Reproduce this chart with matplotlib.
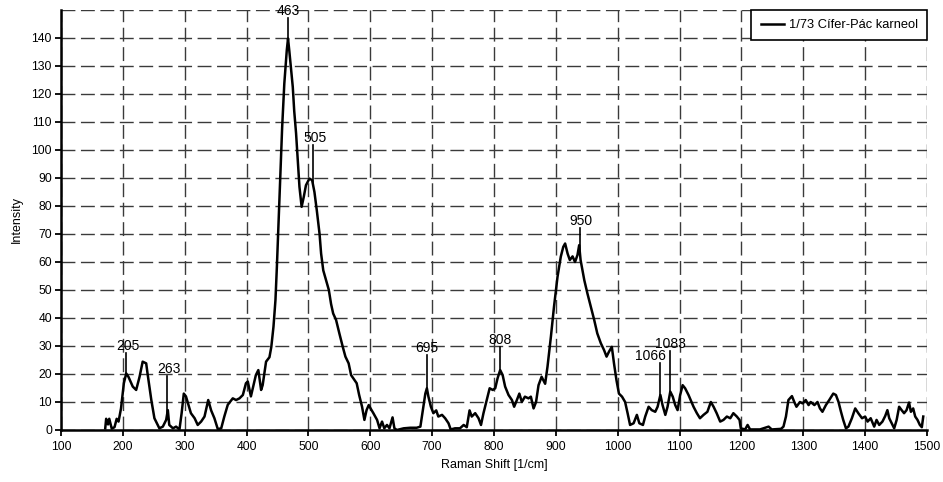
import numpy as np
import matplotlib
matplotlib.use("Agg")
import matplotlib.pyplot as plt

plt.rcParams['font.family'] = ['Liberation Sans', 'DejaVu Sans']

# spectrum
raman_shift = [
    171.5, 173, 176, 178, 182, 186.5, 190, 193, 197, 201.6, 205.4, 209, 216, 221.5, 227, 232,
    237.7, 240, 246, 251, 259, 264.6, 270, 272.7, 275, 281, 286, 291.5, 295, 298.5, 302, 306,
    310, 316, 321, 326.5, 332, 338, 342.7, 348, 353.5, 359, 364, 369.6, 377.7, 383, 388.5, 394,
    399, 402, 407, 415, 419, 423.5, 426, 431.5, 437, 440, 443.5, 446.7, 449, 452, 455, 457.5,
    461, 465, 467, 469, 472, 474.7, 477, 480, 482.8, 485.5, 489, 492.5, 496, 501.6, 506, 509.7,
    513.5, 518, 520.5, 524, 528.5, 533, 536.6, 540, 544.7, 550, 555.5, 559.8, 565, 569, 574, 578,
    582, 586.7, 590.5, 594, 597.5, 601, 605, 611, 615, 619, 622.6, 627, 631, 636, 639, 643,
    654, 664.6, 675, 681, 685, 689, 691.5, 694, 698, 702, 706.6, 710, 716, 721, 726.5, 730,
    737, 745, 751, 756, 760.5, 764, 769.6, 775, 779, 783, 787, 793, 798, 802, 805.7, 810,
    814, 818, 823.5, 829, 832.6, 837, 841, 845, 850, 855.8, 859.6, 864, 868, 872, 877, 882.7,
    886.5, 892, 897, 902.7, 908, 912, 915, 919, 922.6, 927, 931, 935, 937.7, 940, 946, 951,
    956.5, 962, 967, 972.7, 978, 982, 986, 990.5, 994, 998, 1002, 1007, 1012, 1016, 1020,
    1025.7, 1031, 1035, 1040.8, 1044.5, 1050, 1055, 1060.7, 1064.5, 1069, 1072.5, 1077, 1080.6,
    1085, 1089, 1093, 1096.8, 1101, 1105, 1109, 1114.5, 1118, 1122.6, 1128, 1133, 1138.8, 1145,
    1150.6, 1155, 1160, 1165.7, 1171, 1176.5, 1182, 1187, 1192.6, 1197, 1199, 1206, 1210, 1214,
    1230, 1244, 1249, 1264, 1268, 1272, 1276, 1281.7, 1285.5, 1289, 1294.6, 1299, 1304, 1308.6,
    1312, 1318, 1323, 1327, 1331, 1336.6, 1342, 1348.5, 1352.8, 1357, 1361, 1364.6, 1369, 1373,
    1378.6, 1384, 1389, 1395, 1400, 1404, 1409, 1414.7, 1418.5, 1422.8, 1428, 1432.5, 1436, 1439,
    1443, 1447, 1451, 1455, 1459, 1463, 1467, 1471, 1474, 1477.7, 1481, 1484.7, 1488.5, 1491.7,
    1494,
]
intensity = [
    0.6, 4, 2, 4, 0.5, 1, 4, 3, 7.7, 16.7, 20.2, 19, 15.5, 14.3, 19, 24.4,
    23.8, 20, 10.7, 4.2, 0.6, 1.2, 3.6, 7.1, 1.8, 0.6, 1.2, 0.2, 6, 13, 12, 9,
    6, 4.2, 1.8, 3, 4.8, 10.7, 7, 4.2, 0.3, 0.6, 4.8, 9, 11.3, 10.7, 11.3, 12.5,
    16.7, 17.3, 12, 19.6, 21.4, 14.3, 16, 24.4, 26, 29.7, 36.9, 46.4, 58.3, 76, 94, 108,
    123.7, 135.6, 139.8, 135.6, 128.5, 122.5, 114, 106, 96.4, 86.8, 79.7, 83.3, 87.4, 89.8, 89.2, 85,
    78.5, 70, 63, 57, 53.5, 50, 45, 41.6, 39.3, 34.5, 29.7, 26.2, 23.8, 19.6, 18, 16.7,
    12.5, 8.3, 3.6, 7.1, 8.9, 7.5, 6, 3.6, 0.6, 3, 0.6, 1.8, 0.6, 4.5, 0.6, 0,
    0.6, 0.8, 0.8, 1.2, 7, 13, 14.9, 11.9, 8.3, 6, 7, 4.8, 5.4, 4.2, 2.4, 0.2,
    0.6, 0.6, 1.8, 1, 7, 4.8, 6, 4.2, 1.8, 6, 9.5, 14.9, 14.3, 14.9, 18.4, 21.4,
    19.6, 15.5, 12.5, 10.7, 8.3, 10.7, 13, 10, 11.9, 11.3, 11.9, 7.7, 10, 16, 19, 16.5,
    22.6, 33.3, 44, 54.7, 61.9, 65.4, 66.6, 63, 60.7, 62, 60, 62.5, 66, 60.7, 53.5, 48.8,
    44, 39.3, 34.5, 31, 28.5, 26.2, 28, 29.7, 23.8, 17.8, 13, 11.9, 10, 6, 1.8,
    2.4, 5.4, 2.4, 1.8, 4.8, 8.3, 7.1, 6.5, 8.3, 12.5, 8.9, 5.4, 8.3,
    13.7, 11.9, 8.9, 7.1, 12.5, 16, 14.9, 12.5, 10.7, 8.3, 6, 4.2, 5.4, 6.5,
    10, 8.3, 6, 3, 3.6, 4.8, 4.2, 6, 4.8, 3.6, 0.6, 0.2, 1.8, 0.2,
    0.2, 1.2, 0.2, 0.4, 1.2, 4.8, 10.7, 12.1, 10, 8.3, 10, 9.5, 10.7, 8.9,
    10, 8.9, 10, 7.7, 6.5, 8.9, 10.7, 13, 12.5, 10, 6.5, 3.6, 0.6, 1.2,
    4.2, 7.7, 6, 4.2, 4.8, 3, 4.2, 1.2, 3.6, 1.8, 3, 5, 7.1, 4.2,
    2.4, 0.6, 3.6, 8.3, 7.1, 6, 7.1, 9.8, 6.5, 7.7, 4.8, 3.6, 1.8, 1,
    4.8,
]

# peak markers
peak_text = ["205", "263", "463", "505", "695", "808", "950", "1066", "1083"]
peak_x = [205.5, 272, 467, 507, 691, 810, 938.5, 1069, 1084.5]
peak_top = [27.6, 19.3, 147, 101.7, 26.8, 29.5, 72.2, 24, 28.2]
text_x = [209, 274, 467, 510, 692, 810, 940, 1053, 1086]

fig = plt.figure(figsize=(9.43, 4.82), dpi=100)
ax = fig.add_axes([0.0647, 0.1079, 0.9183, 0.8714])

ax.plot(raman_shift, intensity, color="black", lw=1.8, label="1/73 Cífer-Pác karneol",
        solid_joinstyle="round", zorder=3)

peak_base = np.interp(peak_x, raman_shift, intensity)
for px, base, top, tx, t in zip(peak_x, peak_base, peak_top, text_x, peak_text):
    ax.plot([px, px], [base, top], color="black", lw=1.2, zorder=3, clip_on=False)
    ax.text(tx, top, t, ha="center", va="bottom", fontsize=10, clip_on=False)

ax.set_xlim(100, 1500)
ax.set_ylim(0, 150)
ax.set_xticks(np.arange(100, 1501, 100))
ax.set_yticks(np.arange(0, 141, 10))
ax.set_yticks([150], minor=True)
ax.tick_params(which="minor", left=False)

ax.grid(True, which="both", color="#3a3a3a", lw=1.0, linestyle=(0, (10, 4)))
for s in ["top", "right"]:
    ax.spines[s].set_visible(False)
ax.spines["left"].set_linewidth(1.8)
ax.spines["bottom"].set_linewidth(1.8)
ax.tick_params(axis="both", direction="out", length=4, width=1.3, labelsize=8.7, pad=2.5)
ax.tick_params(axis="x", pad=4)

ax.set_xlabel("Raman Shift [1/cm]", fontsize=9, labelpad=4)
ax.set_ylabel("Intensity", fontsize=9, labelpad=6)

leg = ax.legend(loc="upper right", bbox_to_anchor=(1.0, 1.0), borderaxespad=0,
                fancybox=False, framealpha=1, edgecolor="black", fontsize=9.3,
                handlelength=1.8, handletextpad=0.4, borderpad=0.7)
leg.get_frame().set_linewidth(1.2)

fig.savefig("out.png", dpi=100)
